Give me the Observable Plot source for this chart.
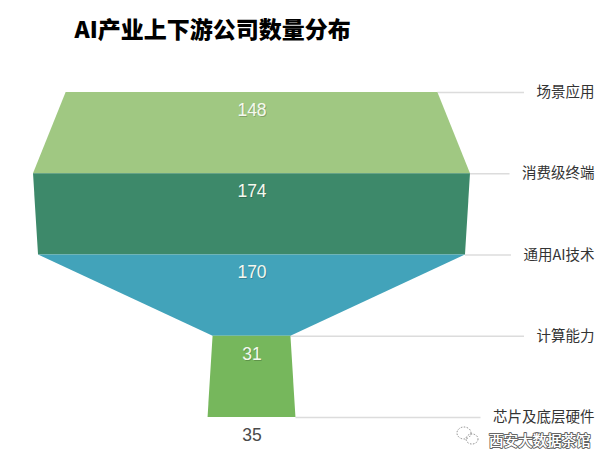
<!DOCTYPE html>
<html>
<head>
<meta charset="utf-8">
<script src="https://cdn.jsdelivr.net/npm/d3@7"></script>
<script src="https://cdn.jsdelivr.net/npm/@observablehq/plot@0.6"></script>
<style>
  html, body { margin: 0; padding: 0; background: #fff; }
</style>
</head>
<body>
<div id="chart"></div>
<script>
const title = "AI产业上下游公司数量分布";
const categories = ["场景应用", "消费级终端", "通用AI技术", "计算能力", "芯片及底层硬件"];
const values = [148, 174, 170, 31, 35];
const colors = ["#a0c882", "#3d896a", "#42a3ba", "#76b75c"];
const watermark = "西安大数据茶馆";

const W = 611, H = 456;
const cx = 251.5, pxPerUnit = 437 / 174;
const top0 = 92, layerH = 81.25;
const xDomain = [-cx / pxPerUnit, (W - cx) / pxPerUnit];
const yDomain = [-top0 / layerH, (H - top0) / layerH];

// trapezoid segments: top width = values[i], bottom width = values[i+1]
const areaData = [];
for (let i = 0; i < values.length - 1; i++) {
  areaData.push({seg: i, y: i, x1: -values[i] / 2, x2: values[i] / 2});
  areaData.push({seg: i, y: i + 1, x1: -values[i + 1] / 2, x2: values[i + 1] / 2});
}

// label widths for leader lines
const ctx = document.createElement("canvas").getContext("2d");
const labelFont = "14.5px 'Noto Sans CJK SC', sans-serif";
ctx.font = labelFont;
const labelEndPx = 594;
const labelEnd = (labelEndPx - cx) / pxPerUnit;
const lines = categories.map((c, i) => {
  const w = ctx.measureText(c).width;
  return {y: i, x1: values[i] / 2, x2: (labelEndPx - w - 12 - cx) / pxPerUnit, label: c};
});

const valueLabels = values.map((v, i) => ({y: i + 0.22, v, inside: i < values.length - 1}));
const numFont = "Arial, 'Liberation Sans', sans-serif";

const plot = Plot.plot({
  width: W, height: H,
  margin: 0,
  x: {domain: xDomain, range: [0, W], axis: null},
  y: {domain: yDomain, range: [0, H], axis: null},
  style: {fontFamily: "'Noto Sans CJK SC', sans-serif", background: "#fff"},
  marks: [
    Plot.ruleY(lines, {y: "y", x1: "x1", x2: "x2", stroke: "#dcdcdc", strokeWidth: 1.5}),
    Plot.areaX(areaData, {y: "y", x1: "x1", x2: "x2", z: "seg", fill: d => colors[d.seg], curve: "linear"}),
    Plot.text(valueLabels.filter(d => d.inside), {
      x: 0, y: "y", text: d => String(d.v), dx: 0.8, dy: 1,
      fill: "#000", fillOpacity: 0.2, fontSize: 17.5, fontFamily: numFont
    }),
    Plot.text(valueLabels, {
      x: 0, y: "y", text: d => String(d.v),
      fill: d => d.inside ? "#f4f8ef" : "#4a4a4a", fontSize: 17.5,
      fontFamily: numFont
    }),
    Plot.text(lines, {
      x: labelEnd, y: "y", text: "label", textAnchor: "end",
      fill: "#333", fontSize: 14.5, fontFamily: "'Noto Sans CJK SC', sans-serif"
    }),
    Plot.text([title], {
      frameAnchor: "top-left", dx: 74, dy: 21, text: d => d, textAnchor: "start", lineAnchor: "top",
      fill: "#000", fontSize: 23, fontWeight: 900,
      fontFamily: "'Noto Sans CJK SC', sans-serif"
    }),
    Plot.text([watermark], {
      frameAnchor: "bottom-right", dx: -21, dy: -11, text: d => d, textAnchor: "end",
      fill: "#fff", stroke: "#666", strokeWidth: 2.2, fontSize: 14.5,
      fontFamily: "'Noto Sans CJK SC', sans-serif"
    }),
    Plot.text([watermark], {
      frameAnchor: "bottom-right", dx: -21, dy: -11, text: d => d, textAnchor: "end",
      fill: "#fff", fontSize: 14.5,
      fontFamily: "'Noto Sans CJK SC', sans-serif"
    })
  ]
});
document.getElementById("chart").appendChild(plot);

// small WeChat-like icon next to watermark (decorative)
const svg = d3.select(plot);
const g = svg.append("g").attr("fill", "none").attr("stroke", "#888").attr("stroke-width", 1).attr("stroke-dasharray", "1.5,1.5");
g.append("ellipse").attr("cx", W - 147).attr("cy", H - 23).attr("rx", 7).attr("ry", 6);
g.append("ellipse").attr("cx", W - 139).attr("cy", H - 17).attr("rx", 6).attr("ry", 5);
</script>
</body>
</html>
